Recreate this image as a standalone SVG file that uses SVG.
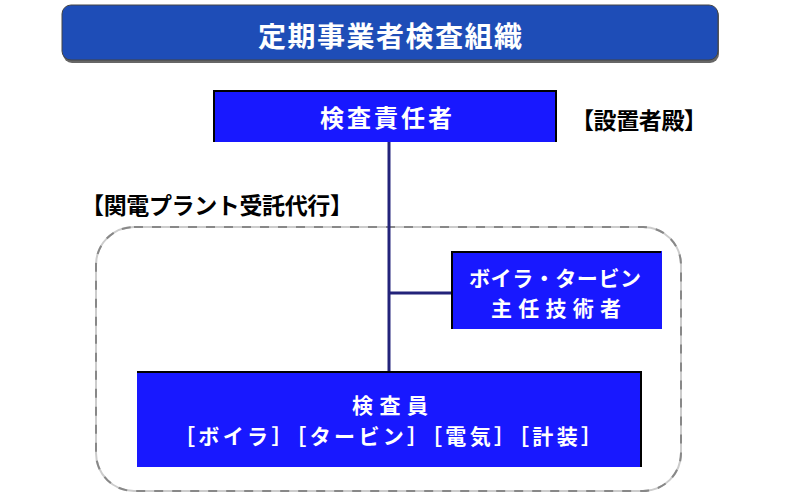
<svg xmlns="http://www.w3.org/2000/svg" width="792" height="504" viewBox="0 0 792 504">
<style>
text{font-family:"Noto Sans CJK JP","Noto Sans",sans-serif;font-weight:bold;}
.w{fill:#ffffff;}
.k{fill:#000000;}
.box{fill:#1818ff;}
.edge{fill:none;stroke:#000;stroke-width:2;}
.conn{stroke:#23237a;stroke-width:3;fill:none;}
</style>
<rect x="0" y="0" width="792" height="504" fill="#ffffff"/>
<g id="title">
<rect x="63" y="7" width="656" height="56" rx="9" fill="#666666"/>
<rect x="62" y="5" width="656" height="55" rx="9" fill="#1e4db7" stroke="#444" stroke-width="1"/>
<text class="w" x="390" y="47" font-size="28" text-anchor="middle" textLength="264" lengthAdjust="spacing">定期事業者検査組織</text>
</g>
<g id="group-frame">
<rect x="96" y="227" width="585" height="264" rx="38" fill="none" stroke="#cccccc" stroke-width="2"/>
<rect x="96" y="227" width="585" height="264" rx="38" fill="none" stroke="#888888" stroke-width="2" stroke-dasharray="9 9"/>
<text class="k" x="217" y="214" font-size="23" text-anchor="middle" textLength="272" lengthAdjust="spacing">【関電プラント受託代行】</text>
</g>
<g id="connectors">
<line class="conn" x1="389" y1="142" x2="389" y2="371"/>
<line class="conn" x1="389" y1="293" x2="452" y2="293"/>
</g>
<g id="chief">
<rect class="box" x="214" y="90" width="342" height="52"/>
<polyline class="edge" points="214,142 214,91 556,91 556,142"/>
<text class="w" x="386" y="127" font-size="24" text-anchor="middle" textLength="132" lengthAdjust="spacing">検査責任者</text>
</g>
<g id="owner-label">
<text class="k" x="639" y="129" font-size="23" text-anchor="middle" textLength="136" lengthAdjust="spacing">【設置者殿】</text>
</g>
<g id="bt-engineer">
<rect class="box" x="452" y="251" width="210" height="78"/>
<polyline class="edge" points="452,329 452,252 661,252"/>
<text class="w" x="555" y="286" font-size="21" text-anchor="middle" textLength="172" lengthAdjust="spacing">ボイラ・タービン</text>
<text class="w" x="556" y="316" font-size="21" text-anchor="middle" textLength="130" lengthAdjust="spacing">主任技術者</text>
</g>
<g id="inspectors">
<rect class="box" x="137" y="371" width="505" height="96"/>
<polyline class="edge" points="137,372 641,372 641,467"/>
<text class="w" x="390" y="413" font-size="21" text-anchor="middle" textLength="76" lengthAdjust="spacing">検査員</text>
<text class="w" x="388" y="444" font-size="21" text-anchor="middle" textLength="428" lengthAdjust="spacing">［ボイラ］［タービン］［電気］［計装］</text>
</g>
</svg>
